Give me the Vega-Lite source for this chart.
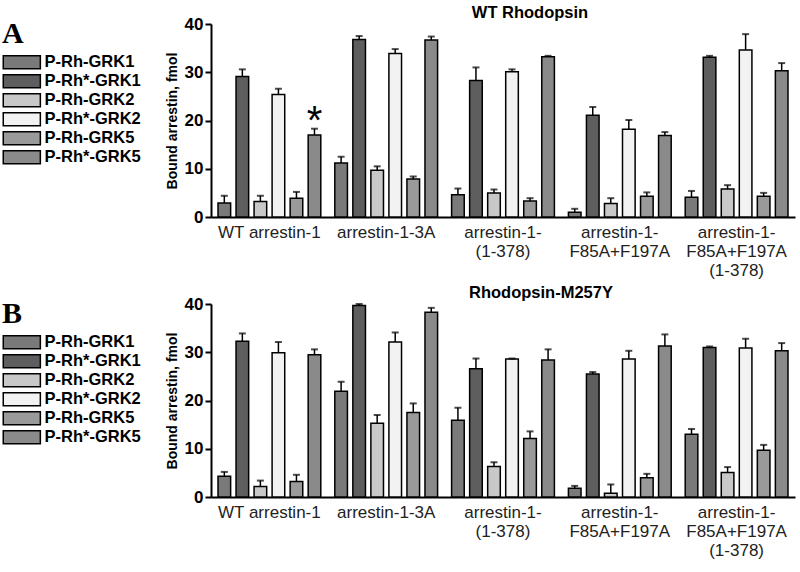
{
  "$schema": "https://vega.github.io/schema/vega-lite/v6.json",
  "background": "white",
  "padding": {"left": 2, "top": 4, "right": 4, "bottom": 2},
  "config": {
    "font": "Liberation Sans",
    "view": {"stroke": null},
    "axis": {"grid": false, "domainColor": "black", "domainWidth": 2, "tickColor": "black", "tickWidth": 2, "labelColor": "black", "titleColor": "black"},
    "legend": {
      "symbolType": "M-1,-0.93H4.3V0.93H-1Z",
      "symbolSize": 196,
      "symbolStrokeColor": "black",
      "symbolStrokeWidth": 1.5,
      "symbolOpacity": 1,
      "labelFontSize": 16.5,
      "labelFontWeight": "bold",
      "labelColor": "black",
      "labelOffset": 26,
      "rowPadding": -1,
      "titleFont": "Liberation Serif",
      "titleFontSize": 30,
      "titleFontWeight": "bold",
      "titleColor": "black",
      "titlePadding": 5,
      "padding": 0
    }
  },
  "data": {"values": [
    {"panel": "A", "group": "WT arrestin-1", "series": "P-Rh-GRK1", "value": 2.9, "err": 4.4, "note": ""},
    {"panel": "A", "group": "WT arrestin-1", "series": "P-Rh*-GRK1", "value": 29.1, "err": 30.6, "note": ""},
    {"panel": "A", "group": "WT arrestin-1", "series": "P-Rh-GRK2", "value": 3.2, "err": 4.4, "note": ""},
    {"panel": "A", "group": "WT arrestin-1", "series": "P-Rh*-GRK2", "value": 25.4, "err": 26.6, "note": ""},
    {"panel": "A", "group": "WT arrestin-1", "series": "P-Rh-GRK5", "value": 3.9, "err": 5.2, "note": ""},
    {"panel": "A", "group": "WT arrestin-1", "series": "P-Rh*-GRK5", "value": 17.0, "err": 18.3, "note": "*"},
    {"panel": "A", "group": "arrestin-1-3A", "series": "P-Rh-GRK1", "value": 11.2, "err": 12.5, "note": ""},
    {"panel": "A", "group": "arrestin-1-3A", "series": "P-Rh*-GRK1", "value": 36.8, "err": 37.5, "note": ""},
    {"panel": "A", "group": "arrestin-1-3A", "series": "P-Rh-GRK2", "value": 9.7, "err": 10.5, "note": ""},
    {"panel": "A", "group": "arrestin-1-3A", "series": "P-Rh*-GRK2", "value": 33.9, "err": 34.8, "note": ""},
    {"panel": "A", "group": "arrestin-1-3A", "series": "P-Rh-GRK5", "value": 7.9, "err": 8.4, "note": ""},
    {"panel": "A", "group": "arrestin-1-3A", "series": "P-Rh*-GRK5", "value": 36.7, "err": 37.4, "note": ""},
    {"panel": "A", "group": "arrestin-1-|(1-378)", "series": "P-Rh-GRK1", "value": 4.6, "err": 5.9, "note": ""},
    {"panel": "A", "group": "arrestin-1-|(1-378)", "series": "P-Rh*-GRK1", "value": 28.3, "err": 31.0, "note": ""},
    {"panel": "A", "group": "arrestin-1-|(1-378)", "series": "P-Rh-GRK2", "value": 5.0, "err": 5.7, "note": ""},
    {"panel": "A", "group": "arrestin-1-|(1-378)", "series": "P-Rh*-GRK2", "value": 30.1, "err": 30.6, "note": ""},
    {"panel": "A", "group": "arrestin-1-|(1-378)", "series": "P-Rh-GRK5", "value": 3.3, "err": 3.9, "note": ""},
    {"panel": "A", "group": "arrestin-1-|(1-378)", "series": "P-Rh*-GRK5", "value": 33.2, "err": 33.4, "note": ""},
    {"panel": "A", "group": "arrestin-1-|F85A+F197A", "series": "P-Rh-GRK1", "value": 1.0, "err": 1.7, "note": ""},
    {"panel": "A", "group": "arrestin-1-|F85A+F197A", "series": "P-Rh*-GRK1", "value": 21.1, "err": 22.8, "note": ""},
    {"panel": "A", "group": "arrestin-1-|F85A+F197A", "series": "P-Rh-GRK2", "value": 2.8, "err": 3.9, "note": ""},
    {"panel": "A", "group": "arrestin-1-|F85A+F197A", "series": "P-Rh*-GRK2", "value": 18.2, "err": 20.1, "note": ""},
    {"panel": "A", "group": "arrestin-1-|F85A+F197A", "series": "P-Rh-GRK5", "value": 4.3, "err": 5.1, "note": ""},
    {"panel": "A", "group": "arrestin-1-|F85A+F197A", "series": "P-Rh*-GRK5", "value": 16.9, "err": 17.6, "note": ""},
    {"panel": "A", "group": "arrestin-1-|F85A+F197A|(1-378)", "series": "P-Rh-GRK1", "value": 4.1, "err": 5.4, "note": ""},
    {"panel": "A", "group": "arrestin-1-|F85A+F197A|(1-378)", "series": "P-Rh*-GRK1", "value": 33.1, "err": 33.4, "note": ""},
    {"panel": "A", "group": "arrestin-1-|F85A+F197A|(1-378)", "series": "P-Rh-GRK2", "value": 5.8, "err": 6.6, "note": ""},
    {"panel": "A", "group": "arrestin-1-|F85A+F197A|(1-378)", "series": "P-Rh*-GRK2", "value": 34.6, "err": 37.9, "note": ""},
    {"panel": "A", "group": "arrestin-1-|F85A+F197A|(1-378)", "series": "P-Rh-GRK5", "value": 4.3, "err": 5.0, "note": ""},
    {"panel": "A", "group": "arrestin-1-|F85A+F197A|(1-378)", "series": "P-Rh*-GRK5", "value": 30.3, "err": 31.9, "note": ""},
    {"panel": "B", "group": "WT arrestin-1", "series": "P-Rh-GRK1", "value": 4.3, "err": 5.2, "note": ""},
    {"panel": "B", "group": "WT arrestin-1", "series": "P-Rh*-GRK1", "value": 32.3, "err": 33.9, "note": ""},
    {"panel": "B", "group": "WT arrestin-1", "series": "P-Rh-GRK2", "value": 2.2, "err": 3.4, "note": ""},
    {"panel": "B", "group": "WT arrestin-1", "series": "P-Rh*-GRK2", "value": 29.9, "err": 32.1, "note": ""},
    {"panel": "B", "group": "WT arrestin-1", "series": "P-Rh-GRK5", "value": 3.2, "err": 4.6, "note": ""},
    {"panel": "B", "group": "WT arrestin-1", "series": "P-Rh*-GRK5", "value": 29.5, "err": 30.6, "note": ""},
    {"panel": "B", "group": "arrestin-1-3A", "series": "P-Rh-GRK1", "value": 21.9, "err": 23.9, "note": ""},
    {"panel": "B", "group": "arrestin-1-3A", "series": "P-Rh*-GRK1", "value": 39.7, "err": 40.0, "note": ""},
    {"panel": "B", "group": "arrestin-1-3A", "series": "P-Rh-GRK2", "value": 15.3, "err": 17.0, "note": ""},
    {"panel": "B", "group": "arrestin-1-3A", "series": "P-Rh*-GRK2", "value": 32.1, "err": 34.1, "note": ""},
    {"panel": "B", "group": "arrestin-1-3A", "series": "P-Rh-GRK5", "value": 17.5, "err": 19.4, "note": ""},
    {"panel": "B", "group": "arrestin-1-3A", "series": "P-Rh*-GRK5", "value": 38.3, "err": 39.2, "note": ""},
    {"panel": "B", "group": "arrestin-1-|(1-378)", "series": "P-Rh-GRK1", "value": 15.9, "err": 18.5, "note": ""},
    {"panel": "B", "group": "arrestin-1-|(1-378)", "series": "P-Rh*-GRK1", "value": 26.6, "err": 28.7, "note": ""},
    {"panel": "B", "group": "arrestin-1-|(1-378)", "series": "P-Rh-GRK2", "value": 6.3, "err": 7.2, "note": ""},
    {"panel": "B", "group": "arrestin-1-|(1-378)", "series": "P-Rh*-GRK2", "value": 28.6, "err": 28.7, "note": ""},
    {"panel": "B", "group": "arrestin-1-|(1-378)", "series": "P-Rh-GRK5", "value": 12.1, "err": 13.6, "note": ""},
    {"panel": "B", "group": "arrestin-1-|(1-378)", "series": "P-Rh*-GRK5", "value": 28.4, "err": 30.6, "note": ""},
    {"panel": "B", "group": "arrestin-1-|F85A+F197A", "series": "P-Rh-GRK1", "value": 1.8, "err": 2.3, "note": ""},
    {"panel": "B", "group": "arrestin-1-|F85A+F197A", "series": "P-Rh*-GRK1", "value": 25.5, "err": 25.9, "note": ""},
    {"panel": "B", "group": "arrestin-1-|F85A+F197A", "series": "P-Rh-GRK2", "value": 0.8, "err": 2.6, "note": ""},
    {"panel": "B", "group": "arrestin-1-|F85A+F197A", "series": "P-Rh*-GRK2", "value": 28.6, "err": 30.3, "note": ""},
    {"panel": "B", "group": "arrestin-1-|F85A+F197A", "series": "P-Rh-GRK5", "value": 4.0, "err": 4.8, "note": ""},
    {"panel": "B", "group": "arrestin-1-|F85A+F197A", "series": "P-Rh*-GRK5", "value": 31.3, "err": 33.7, "note": ""},
    {"panel": "B", "group": "arrestin-1-|F85A+F197A|(1-378)", "series": "P-Rh-GRK1", "value": 13.0, "err": 14.1, "note": ""},
    {"panel": "B", "group": "arrestin-1-|F85A+F197A|(1-378)", "series": "P-Rh*-GRK1", "value": 31.0, "err": 31.2, "note": ""},
    {"panel": "B", "group": "arrestin-1-|F85A+F197A|(1-378)", "series": "P-Rh-GRK2", "value": 5.1, "err": 6.2, "note": ""},
    {"panel": "B", "group": "arrestin-1-|F85A+F197A|(1-378)", "series": "P-Rh*-GRK2", "value": 30.9, "err": 32.8, "note": ""},
    {"panel": "B", "group": "arrestin-1-|F85A+F197A|(1-378)", "series": "P-Rh-GRK5", "value": 9.7, "err": 10.8, "note": ""},
    {"panel": "B", "group": "arrestin-1-|F85A+F197A|(1-378)", "series": "P-Rh*-GRK5", "value": 30.3, "err": 31.9, "note": ""}
  ]},
  "resolve": {"scale": {"color": "independent"}, "legend": {"color": "independent"}},
  "spacing": 6,
  "vconcat": [
    {
      "width": 584, "height": 193,
      "title": {"text": "WT Rhodopsin", "fontSize": 16.5, "fontWeight": "bold", "color": "black", "dx": 27, "offset": -6},
      "transform": [{"filter": "datum.panel == 'A'"}],
      "encoding": {
        "x": {"field": "group", "type": "nominal", "sort": null,
              "scale": {"paddingInner": 0.12, "paddingOuter": 0.06},
              "axis": {"title": null, "labelAngle": 0, "ticks": false, "labelFontSize": 17, "labelColor": "#222", "labelPadding": 7, "labelLineHeight": 19, "labelExpr": "split(datum.value, '|')"}},
        "xOffset": {"field": "series", "type": "nominal", "sort": null, "scale": {"paddingInner": 0.3}}
      },
      "layer": [
        {
          "mark": {"type": "bar", "stroke": "black", "strokeWidth": 1.5},
          "encoding": {
            "y": {"field": "value", "type": "quantitative", "scale": {"domain": [0, 40]},
                  "axis": {"title": "Bound arrestin, fmol", "titleFontSize": 14, "titleFontWeight": "bold", "values": [0, 10, 20, 30, 40], "labelFontSize": 17, "labelFontWeight": "bold", "tickSize": 6, "titlePadding": 5}},
            "color": {"field": "series", "type": "nominal", "sort": null,
                      "scale": {"range": ["#7a7a7a", "#5e5e5e", "#c8c8c8", "#f2f2f2", "#9a9a9a", "#8a8a8a"]},
                      "legend": {"title": "A", "orient": "none", "legendX": -209, "legendY": -5}}
          }
        },
        {
          "mark": {"type": "rule", "color": "black", "strokeWidth": 1.5},
          "encoding": {"y": {"field": "value", "type": "quantitative"}, "y2": {"field": "err"}}
        },
        {
          "mark": {"type": "tick", "color": "black", "thickness": 2, "size": 7},
          "encoding": {"y": {"field": "err", "type": "quantitative"}}
        },
        {
          "transform": [{"filter": "datum.note != ''"}],
          "mark": {"type": "text", "fontSize": 40, "color": "black", "baseline": "middle", "dy": -7},
          "encoding": {"y": {"field": "err", "type": "quantitative"}, "text": {"field": "note"}}
        }
      ]
    },
    {
      "width": 584, "height": 193,
      "title": {"text": "Rhodopsin-M257Y", "fontSize": 16.5, "fontWeight": "bold", "color": "black", "dx": 38, "offset": -6},
      "transform": [{"filter": "datum.panel == 'B'"}],
      "encoding": {
        "x": {"field": "group", "type": "nominal", "sort": null,
              "scale": {"paddingInner": 0.12, "paddingOuter": 0.06},
              "axis": {"title": null, "labelAngle": 0, "ticks": false, "labelFontSize": 17, "labelColor": "#222", "labelPadding": 7, "labelLineHeight": 19, "labelExpr": "split(datum.value, '|')"}},
        "xOffset": {"field": "series", "type": "nominal", "sort": null, "scale": {"paddingInner": 0.3}}
      },
      "layer": [
        {
          "mark": {"type": "bar", "stroke": "black", "strokeWidth": 1.5},
          "encoding": {
            "y": {"field": "value", "type": "quantitative", "scale": {"domain": [0, 40]},
                  "axis": {"title": "Bound arrestin, fmol", "titleFontSize": 14, "titleFontWeight": "bold", "values": [0, 10, 20, 30, 40], "labelFontSize": 17, "labelFontWeight": "bold", "tickSize": 6, "titlePadding": 5}},
            "color": {"field": "series", "type": "nominal", "sort": null,
                      "scale": {"range": ["#7a7a7a", "#5e5e5e", "#c8c8c8", "#f2f2f2", "#9a9a9a", "#8a8a8a"]},
                      "legend": {"title": "B", "orient": "none", "legendX": -209, "legendY": -5}}
          }
        },
        {
          "mark": {"type": "rule", "color": "black", "strokeWidth": 1.5},
          "encoding": {"y": {"field": "value", "type": "quantitative"}, "y2": {"field": "err"}}
        },
        {
          "mark": {"type": "tick", "color": "black", "thickness": 2, "size": 7},
          "encoding": {"y": {"field": "err", "type": "quantitative"}}
        }
      ]
    }
  ]
}
